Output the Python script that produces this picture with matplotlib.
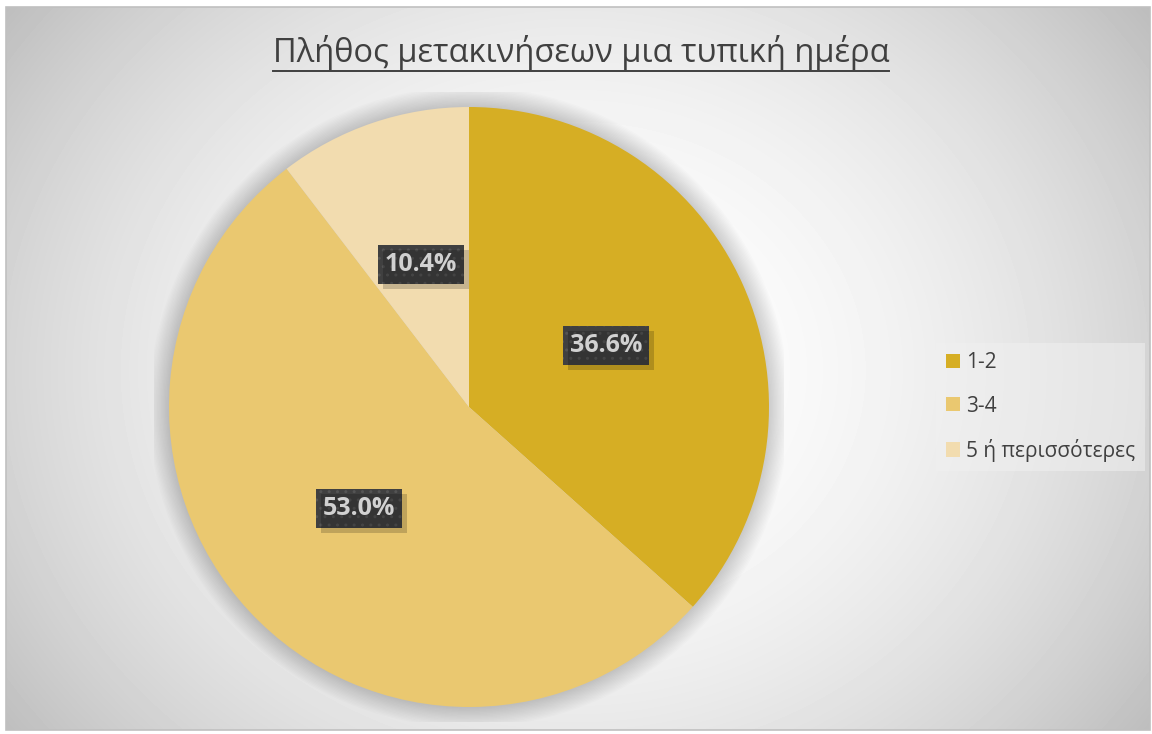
import numpy as np
import matplotlib
matplotlib.use("Agg")
import matplotlib.pyplot as plt
from matplotlib.patches import Circle, Rectangle

# trips per typical day, share of respondents (%)
categories = ["1-2", "3-4", "5 ή περισσότερες"]
shares = [36.6, 53.0, 10.4]
colors = ["#D6AE24", "#EAC870", "#F2DCAF"]
title = "Πλήθος μετακινήσεων μια τυπική ημέρα"

plt.rcParams["font.family"] = ["Open Sans", "DejaVu Sans"]
text_color = "#404040"

W, H = 1152, 734
fig = plt.figure(figsize=(W / 100, H / 100), dpi=100)
fig.patch.set_facecolor("white")

# chart area with a soft radial grey gradient
x0, y0, x1, y1 = 6, 7, 1150, 730
bg = fig.add_axes([x0 / W, 1 - y1 / H, (x1 - x0) / W, (y1 - y0) / H])
gx, gy = np.meshgrid(np.arange(x0, x1), np.arange(y0, y1))
d2 = ((gx - 575) / 700.0) ** 2 + ((gy - 370) / 600.0) ** 2
shade = np.clip(1 - 0.25 * d2, 0, 1)
bg.imshow(shade, cmap="gray", vmin=0, vmax=1, aspect="auto", interpolation="bilinear")
bg.set_axis_off()
fig.patches.append(Rectangle((x0 / W, 1 - y1 / H), (x1 - x0) / W, (y1 - y0) / H,
                             transform=fig.transFigure, fill=False,
                             edgecolor="#c0c0c0", linewidth=1.2))

# pie axes: centre (469, 407) px, radius 300 px
cx, cy, r = 469, 407, 300
lim = 1.05
half = r * lim
ax = fig.add_axes([(cx - half) / W, (H - cy - half) / H, 2 * half / W, 2 * half / H])

wedges, _, autotexts = ax.pie(shares, colors=colors, startangle=90, counterclock=False,
                              radius=1, autopct="%.1f%%", pctdistance=0.5,
                              wedgeprops=dict(linewidth=0),
                              textprops=dict(color="white", fontsize=18, fontweight="bold"))
ax.set_xlim(-lim, lim)
ax.set_ylim(-lim, lim)
ax.set_aspect("equal")
ax.set_axis_off()
for w in wedges:
    w.set_zorder(2)

# soft shadow around the pie
for i in range(1, 16):
    ax.add_patch(Circle((0, 0), 1 + i * 0.0045, facecolor="black", alpha=0.012,
                        edgecolor="none", zorder=0))

box = dict(boxstyle="square,pad=0.28", facecolor="#404040", edgecolor="#545454",
           linewidth=0, hatch="..")
for t in autotexts:
    t.set_bbox(box)
    t.set_zorder(5)

leg = ax.legend(wedges, categories, loc="center left",
                bbox_to_anchor=(926 / W, 1 - 407 / H), bbox_transform=fig.transFigure,
                fontsize=15, frameon=True, handlelength=0.67, handleheight=0.67,
                handletextpad=0.3, labelspacing=1.07, borderpad=0.45, fancybox=False)
leg.get_frame().set_facecolor("#f0f0f0")
leg.get_frame().set_alpha(0.55)
leg.get_frame().set_linewidth(0)
for txt in leg.get_texts():
    txt.set_color(text_color)

ttl = fig.text(581 / W, 1 - 52 / H, title, ha="center", va="center",
               fontsize=23.5, color=text_color)

fig.canvas.draw()

# drop shadow under each label box
for t in autotexts:
    pb = t.get_bbox_patch().get_window_extent()
    fig.patches.append(Rectangle(((pb.x0 + 5) / W, (pb.y0 - 5) / H), pb.width / W,
                                 pb.height / H, transform=fig.transFigure,
                                 facecolor="black", alpha=0.18, edgecolor="none",
                                 zorder=3))

# underline the title
bb = ttl.get_window_extent()
uy = bb.y0 - 1
fig.add_artist(plt.Line2D([bb.x0 / W, bb.x1 / W], [uy / H, uy / H],
                          transform=fig.transFigure, color=text_color, linewidth=1.4))

fig.savefig("out.png", dpi=100)
